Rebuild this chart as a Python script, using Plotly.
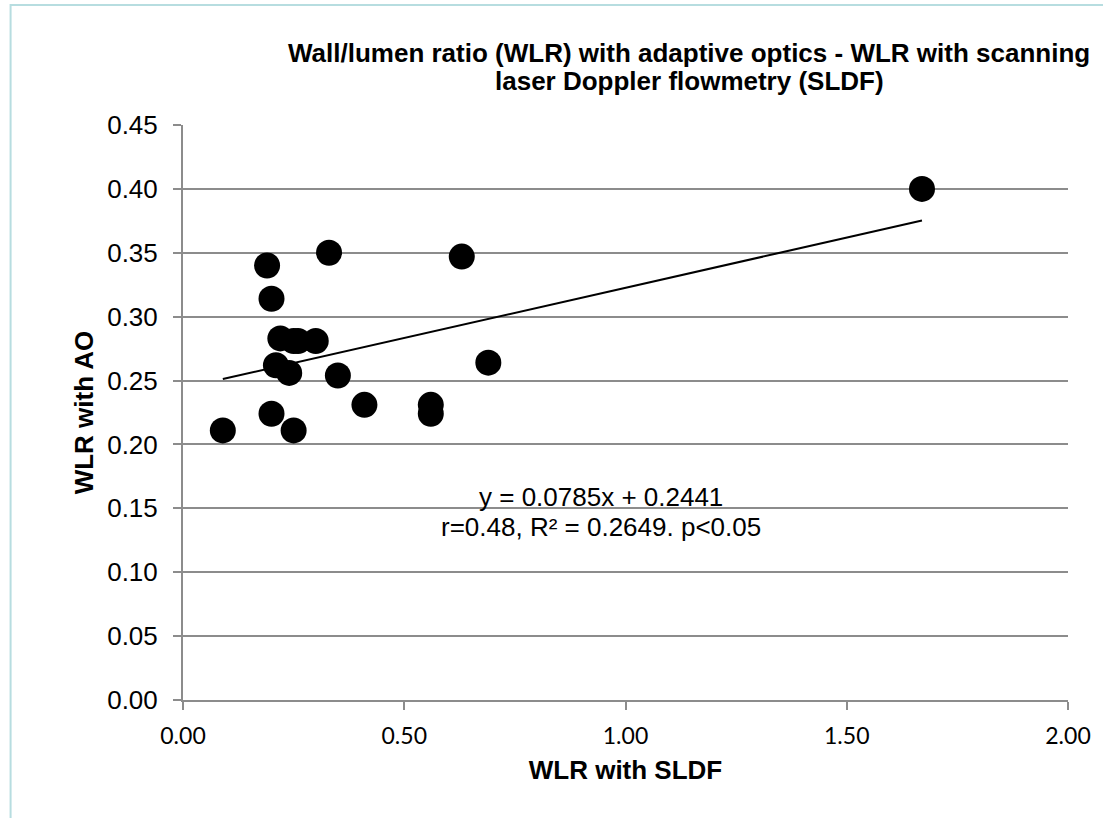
import plotly.graph_objects as go

# Data
wlr_sldf = [0.09, 0.19, 0.33, 0.63, 0.20, 0.22, 0.25, 0.26, 0.30, 0.21, 0.24,
            0.35, 0.20, 0.25, 0.41, 0.56, 0.56, 0.69, 1.67]
wlr_ao = [0.211, 0.340, 0.350, 0.347, 0.314, 0.283, 0.281, 0.281, 0.281, 0.262, 0.256,
          0.254, 0.224, 0.211, 0.231, 0.231, 0.224, 0.264, 0.400]

slope = 0.0785
intercept = 0.2441

x_ticks = [0.0, 0.5, 1.0, 1.5, 2.0]
y_ticks = [0.00, 0.05, 0.10, 0.15, 0.20, 0.25, 0.30, 0.35, 0.40, 0.45]

title_line1 = "Wall/lumen ratio (WLR) with adaptive optics - WLR with scanning"
title_line2 = "laser Doppler flowmetry (SLDF)"
eq_line1 = "y = 0.0785x + 0.2441"
eq_line2 = "r=0.48, R² = 0.2649. p<0.05"

W, H = 1103, 818
L, R, T, B = 183, 32, 125, 118
pw, ph = W - L - R, H - T - B

def px_to_paper_x(px):
    return (px - L) / pw

def px_to_paper_y(py):
    return (H - B - py) / ph

AX = "#8c8c8c"
ARIAL = "Liberation Sans, Arial, sans-serif"
FS = 26

fig = go.Figure()

trend_x = [min(wlr_sldf), max(wlr_sldf)]
trend_y = [slope * v + intercept for v in trend_x]
fig.add_trace(go.Scatter(x=trend_x, y=trend_y, mode="lines",
                         line=dict(color="black", width=2), hoverinfo="skip",
                         showlegend=False))
fig.add_trace(go.Scatter(x=wlr_sldf, y=wlr_ao, mode="markers",
                         marker=dict(color="black", size=26, line=dict(width=0)),
                         showlegend=False))

fig.update_layout(
    width=W, height=H,
    margin=dict(l=L, r=R, t=T, b=B),
    paper_bgcolor="white", plot_bgcolor="white",
    showlegend=False,
    font=dict(family=ARIAL, color="black"),
)

fig.update_xaxes(
    range=[0, 2], tickvals=x_ticks, ticktext=[f"{v:.2f}" for v in x_ticks],
    showgrid=False, zeroline=False,
    showline=True, linecolor=AX, linewidth=2,
    ticks="outside", ticklen=8, tickwidth=2, tickcolor=AX,
    tickfont=dict(family="Lato, Open Sans, sans-serif", size=23, color="black"),
    ticklabelstandoff=6,
    title=dict(text="<b>WLR with SLDF</b>", font=dict(family=ARIAL, size=FS, color="black"),
               standoff=13),
)
fig.update_yaxes(
    range=[0, 0.45], tickvals=y_ticks, ticktext=[f"{v:.2f}" for v in y_ticks],
    showgrid=True, gridcolor=AX, gridwidth=1.5, zeroline=False,
    showline=True, linecolor=AX, linewidth=2,
    ticks="outside", ticklen=8, tickwidth=2, tickcolor=AX,
    tickfont=dict(family=ARIAL, size=FS, color="black"),
    ticklabelstandoff=10,
    title=dict(text="<b>WLR with AO</b>", font=dict(family=ARIAL, size=FS, color="black"),
               standoff=6),
)

# Title as two centered lines
fig.add_annotation(text=f"<b>{title_line1}</b>", xref="paper", yref="paper",
                   x=px_to_paper_x(691), y=px_to_paper_y(53), xanchor="center", yanchor="middle",
                   showarrow=False, font=dict(family=ARIAL, size=FS, color="black"))
fig.add_annotation(text=f"<b>{title_line2}</b>", xref="paper", yref="paper",
                   x=px_to_paper_x(691), y=px_to_paper_y(81), xanchor="center", yanchor="middle",
                   showarrow=False, font=dict(family=ARIAL, size=FS, color="black"))

# Trendline equation
fig.add_annotation(text=eq_line1, xref="x", yref="y", x=0.945, y=0.1588,
                   xanchor="center", yanchor="middle", showarrow=False,
                   font=dict(family=ARIAL, size=FS, color="black"))
fig.add_annotation(text=eq_line2, xref="x", yref="y", x=0.945, y=0.1354,
                   xanchor="center", yanchor="middle", showarrow=False,
                   font=dict(family=ARIAL, size=FS, color="black"))

# Outer chart border
fig.add_shape(type="rect", xref="paper", yref="paper",
              x0=px_to_paper_x(10), y0=px_to_paper_y(830),
              x1=px_to_paper_x(1115), y1=px_to_paper_y(5),
              line=dict(color="#b7dde0", width=2), fillcolor="rgba(0,0,0,0)", layer="below")

fig.write_html("out.html")
